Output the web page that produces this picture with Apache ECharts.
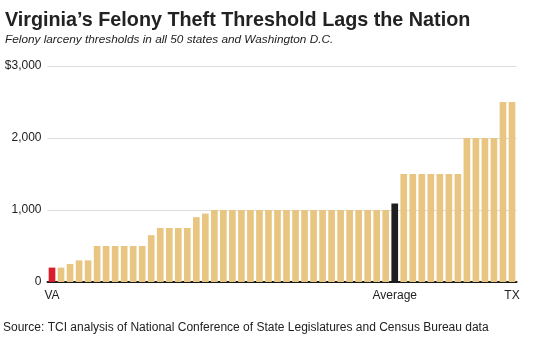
<!DOCTYPE html>
<html>
<head>
<meta charset="utf-8">
<script src="https://cdn.jsdelivr.net/npm/echarts@6/dist/echarts.min.js"></script>
<style>
  html, body { margin: 0; padding: 0; background: #fff; }
  #chart { width: 540px; height: 339px; }
</style>
</head>
<body>
<div id="chart"></div>
<script>
// Felony larceny thresholds (USD), sorted low to high; Virginia first, Texas last
const stateThresholds = [
  200, 200, 250, 300, 300,
  500, 500, 500, 500, 500, 500,
  650,
  750, 750, 750, 750,
  900, 950,
  1000, 1000, 1000, 1000, 1000, 1000, 1000, 1000, 1000, 1000,
  1000, 1000, 1000, 1000, 1000, 1000, 1000, 1000, 1000, 1000,
  1500, 1500, 1500, 1500, 1500, 1500, 1500,
  2000, 2000, 2000, 2000,
  2500, 2500
];
const averageThreshold = 1090;
const averagePosition = 38;          // slot of the average bar among the sorted states
const labelledBars = { 0: 'VA', 38: 'Average', 51: 'TX' };
const yTicks = [0, 1000, 2000, 3000];

const values = stateThresholds.slice(0, averagePosition)
  .concat([averageThreshold], stateThresholds.slice(averagePosition));
const categories = values.map((v, i) => String(i));

const barData = values.map((v, i) => {
  let color = '#E8C681';
  if (i === 0) color = '#D81E2C';
  if (i === averagePosition) color = '#1E1E1E';
  return { value: v, itemStyle: { color: color } };
});

const font = 'Liberation Sans, Arial, sans-serif';
const chart = echarts.init(document.getElementById('chart'), null, { renderer: 'canvas' });
chart.setOption({
  animation: false,
  backgroundColor: '#ffffff',
  textStyle: { fontFamily: font },
  title: [
    {
      text: 'Virginia’s Felony Theft Threshold Lags the Nation',
      left: 0, top: 6,
      textStyle: { fontSize: 19.75, fontWeight: 'bold', color: '#222', fontFamily: font }
    },
    {
      text: 'Felony larceny thresholds in all 50 states and Washington D.C.',
      left: 0, top: 29,
      textStyle: { fontSize: 11.8, fontStyle: 'italic', fontWeight: 'normal', color: '#222', fontFamily: font }
    },
    {
      text: 'Source: TCI analysis of National Conference of State Legislatures and Census Bureau data',
      left: -2, top: 316.5,
      textStyle: { fontSize: 12, fontWeight: 'normal', color: '#222', fontFamily: font }
    }
  ],
  grid: { left: 47.5, right: 23.5, top: 66, bottom: 57, containLabel: false },
  xAxis: {
    type: 'category',
    data: categories,
    axisLine: { show: true, lineStyle: { color: '#1a1a1a', width: 2 } },
    axisTick: { show: false },
    axisLabel: {
      interval: 0,
      margin: 8,
      color: '#222',
      fontSize: 12,
      formatter: (v, i) => labelledBars[i] || ''
    }
  },
  yAxis: {
    type: 'value',
    min: yTicks[0],
    max: yTicks[yTicks.length - 1],
    interval: 1000,
    axisLine: { show: false },
    axisTick: { show: false },
    splitLine: { lineStyle: { color: '#dcdcdc', width: 1 } },
    axisLabel: {
      margin: 6,
      color: '#222',
      fontSize: 12,
      formatter: v => (v === yTicks[yTicks.length - 1] ? '$' : '') + v.toLocaleString('en-US')
    }
  },
  series: [{
    type: 'bar',
    data: barData,
    barWidth: '74%',
    silent: true
  }]
});
</script>
</body>
</html>
